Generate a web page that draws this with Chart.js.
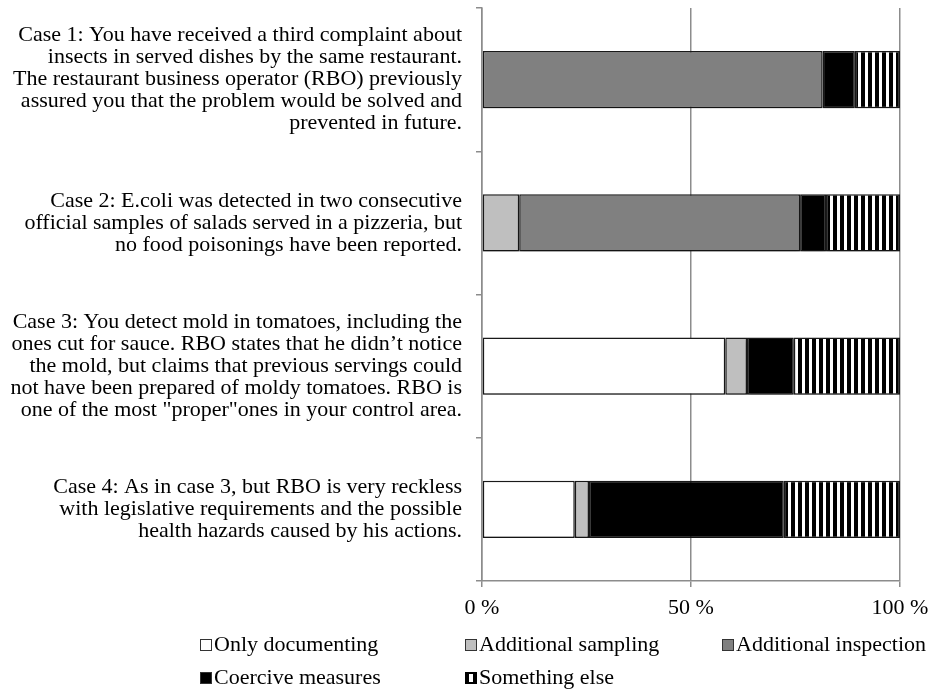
<!DOCTYPE html>
<html>
<head>
<meta charset="utf-8">
<script src="https://cdn.jsdelivr.net/npm/chart.js@4/dist/chart.umd.min.js"></script>
<style>
  html, body { margin: 0; padding: 0; background: #fff; }
  #wrap { width: 936px; height: 689px; position: relative; }
</style>
</head>
<body>
<div id="wrap"><canvas id="c" width="936" height="689"></canvas></div>
<script>
const categories = [
  ["Case 1: You have received a third complaint about",
   "insects in served dishes by the same restaurant.",
   "The restaurant business operator (RBO) previously",
   "assured you that the problem would be solved and",
   "prevented in future."],
  ["Case 2: E.coli was detected in two consecutive",
   "official samples of salads served in a pizzeria, but",
   "no food poisonings have been reported."],
  ["Case 3: You detect mold in tomatoes, including the",
   "ones cut for sauce. RBO states that he didn\u2019t notice",
   "the mold, but claims that previous servings could",
   "not have been prepared of moldy tomatoes. RBO is",
   "one of the most \"proper\"ones in your control area."],
  ["Case 4: As in case 3, but RBO is very reckless",
   "with legislative requirements and the possible",
   "health hazards caused by his actions."]
];
const seriesNames = ["Only documenting", "Additional sampling", "Additional inspection", "Coercive measures", "Something else"];
const onlyDocumenting     = [0, 0, 58.2, 22.2];
const additionalSampling  = [0, 8.9, 5.2, 3.4];
const additionalInspection= [81.5, 67.2, 0, 0];
const coerciveMeasures    = [7.7, 6.2, 11.2, 46.6];
const somethingElse       = [10.8, 17.7, 25.4, 27.8];
const xTickValues = [0, 50, 100];

const FONT = "'Liberation Serif', 'Times New Roman', serif";

// stripe pattern for "Something else"
const pc = document.createElement('canvas');
pc.width = 7; pc.height = 7;
const pctx = pc.getContext('2d');
pctx.fillStyle = '#fff'; pctx.fillRect(0, 0, 7, 7);
pctx.fillStyle = '#000'; pctx.fillRect(0, 0, 4, 7);
const ctx = document.getElementById('c').getContext('2d');
const stripes = ctx.createPattern(pc, 'repeat');

const fills = ['#ffffff', '#bfbfbf', '#808080', '#000000', stripes];
const values = [onlyDocumenting, additionalSampling, additionalInspection, coerciveMeasures, somethingElse];

const datasets = seriesNames.map((name, i) => ({
  label: name,
  data: values[i],
  backgroundColor: fills[i],
  borderColor: '#1a1a1a',
  borderWidth: 1.5,
  borderSkipped: false,
  barPercentage: 0.8,
  categoryPercentage: 0.5
}));

const shadowPlugin = {
  id: 'shadow',
  beforeDatasetsDraw(chart) {
    const c = chart.ctx;
    c.save();
    c.shadowColor = 'rgba(0,0,0,0.3)';
    c.shadowBlur = 4;
    c.shadowOffsetX = 0;
    c.shadowOffsetY = 3;
  },
  afterDatasetsDraw(chart) { chart.ctx.restore(); }
};

const legendPlugin = {
  id: 'gridLegend',
  afterDraw(chart) {
    const c = chart.ctx;
    const cols = [200, 465, 722];
    const rows = [645, 678];
    c.save();
    c.font = "22px " + FONT;
    c.textBaseline = 'middle';
    c.textAlign = 'left';
    chart.data.datasets.forEach((ds, i) => {
      const x = cols[i % 3], y = rows[Math.floor(i / 3)];
      const s = 12;
      const top = y - s / 2;
      if (i === 4) {
        c.fillStyle = '#000';
        c.fillRect(x, top, s, s);
        c.fillStyle = '#fff';
        c.fillRect(x + 4, top + 2, 4, s - 4);
      } else {
        c.fillStyle = fills[i];
        c.fillRect(x, top, s, s);
        c.strokeStyle = '#333';
        c.lineWidth = 1;
        c.strokeRect(x + 0.5, top + 0.5, s - 1, s - 1);
      }
      c.fillStyle = '#000';
      c.fillText(ds.label, x + s + 2, y);
    });
    c.restore();
  }
};

new Chart(ctx, {
  type: 'bar',
  data: { labels: categories, datasets },
  plugins: [shadowPlugin, legendPlugin],
  options: {
    indexAxis: 'y',
    responsive: false,
    animation: false,
    layout: { padding: { top: 8, right: 36, left: 0, bottom: 0 } },
    plugins: { legend: { display: false }, tooltip: { enabled: false } },
    scales: {
      x: {
        stacked: true,
        min: 0, max: 100,
        afterBuildTicks(scale) { scale.ticks = xTickValues.map(v => ({ value: v })); },
        afterFit(scale) { scale.height = 108; scale.paddingLeft = 0; scale.paddingRight = 0; },
        ticks: {
          callback: v => v + ' %',
          color: '#000',
          font: { family: FONT, size: 22 },
          padding: 8,
          maxRotation: 0
        },
        grid: { color: '#8c8c8c', lineWidth: 1.5, tickLength: 6, drawOnChartArea: true },
        border: { color: '#8c8c8c', width: 1.5 }
      },
      y: {
        stacked: true,
        afterFit(scale) { scale.width = 482; scale.paddingTop = 0; scale.paddingBottom = 0; },
        ticks: {
          autoSkip: false,
          color: '#000',
          font: { family: FONT, size: 22, lineHeight: 1.0 },
          padding: 14
        },
        grid: { drawOnChartArea: false, color: '#8c8c8c', lineWidth: 1.5, tickLength: 6, offset: true },
        border: { color: '#8c8c8c', width: 1.5 }
      }
    }
  }
});
</script>
</body>
</html>
